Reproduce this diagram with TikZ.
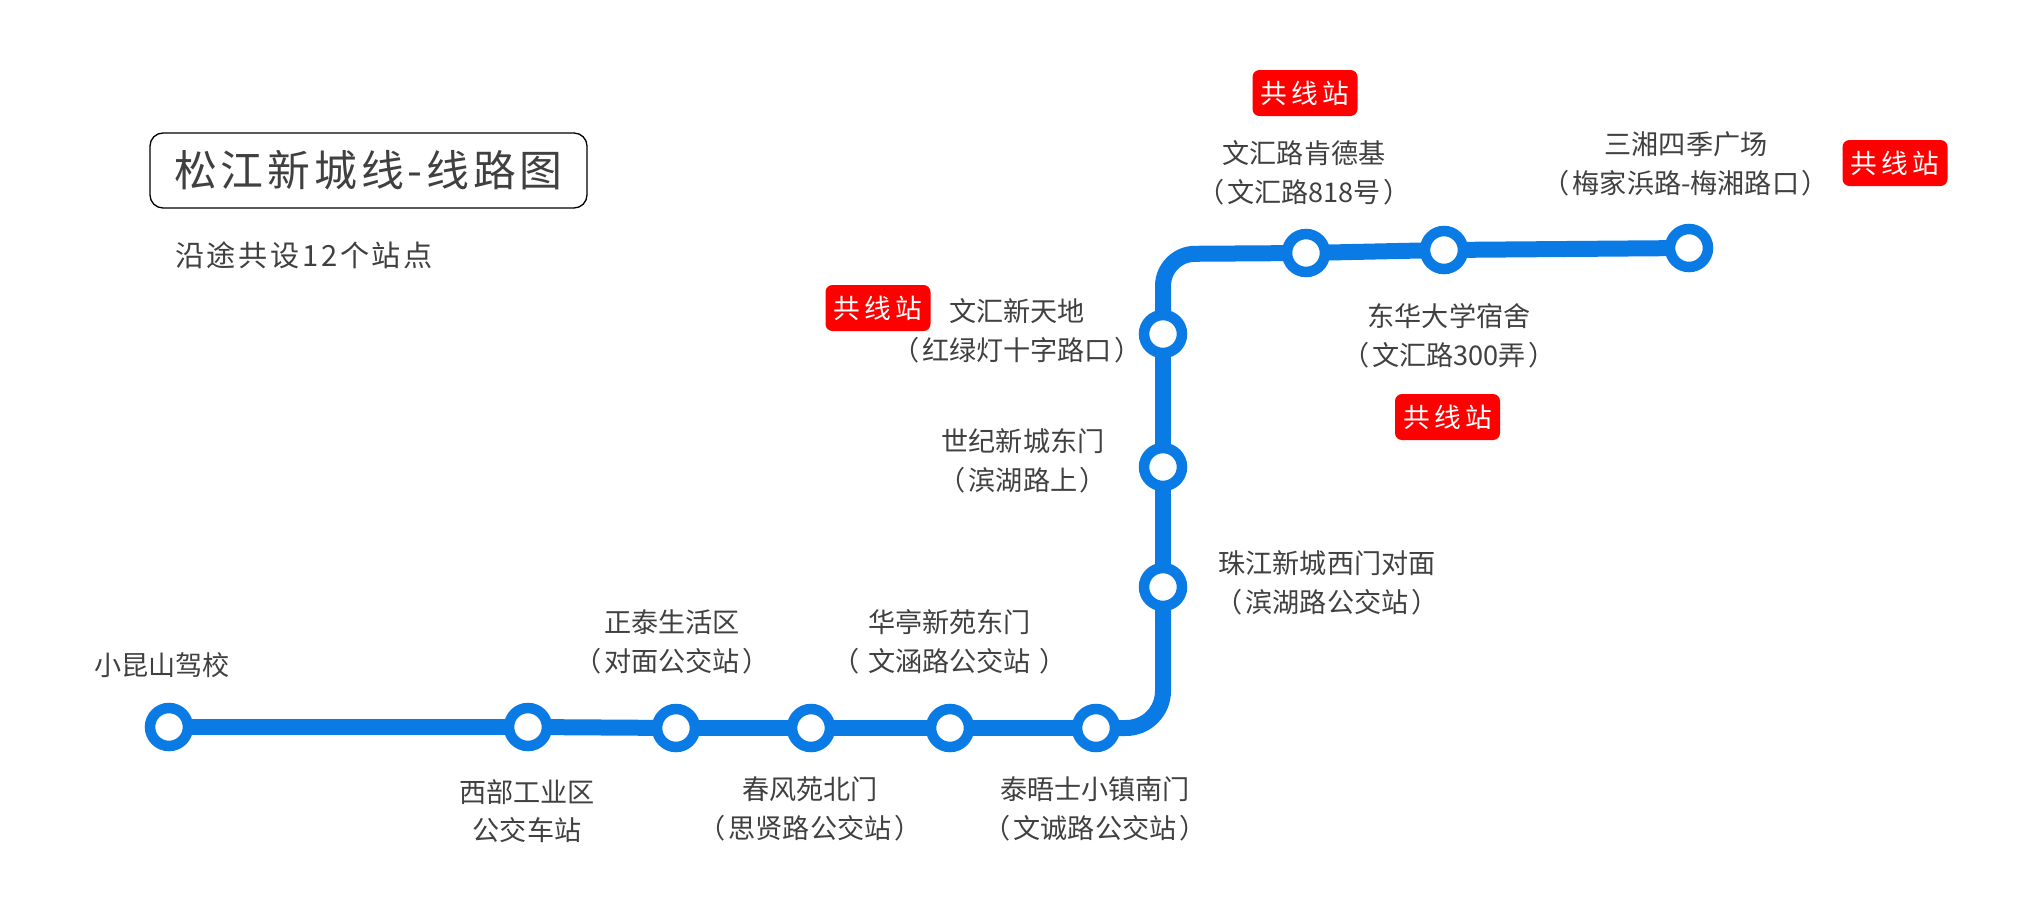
\documentclass[tikz,border=0pt]{standalone}
\usepackage{fontspec}
\setmainfont{Noto Sans CJK SC}
\newfontfamily\spacedfont[LetterSpace=9]{Noto Sans CJK SC}
\newfontfamily\badgefont[LetterSpace=16]{Noto Sans CJK SC}
\usepackage{xcolor}
\usetikzlibrary{positioning}
\definecolor{linecolor}{HTML}{0A7BE4}
\definecolor{textcolor}{HTML}{404040}
\newcommand{\openp}{（\kern0.1em}
\newcommand{\closep}{\kern0.1em）}
\tikzset{
    station/.style={circle, draw=linecolor, fill=white, line width=0.105cm, minimum size=0.38cm, inner sep=0pt, outer sep=0pt},
    lineseg/.style={draw=linecolor, line width=0.16cm},
    stationlabel/.style={align=center, text=textcolor, inner sep=0pt, font=\fontsize{7.72}{11}\selectfont},
    badge/.style={fill=red, text=white, rounded corners=0.07cm, minimum width=1.05cm, minimum height=0.46cm, inner sep=0pt, font=\badgefont\fontsize{7.6}{9}\selectfont},
}

\begin{document}
\begin{tikzpicture}
    \useasboundingbox (0,0) rectangle (20.22,9.08);

    % Title
    \node[draw=black, line width=0.013cm, rounded corners=0.13cm, minimum width=4.37cm, minimum height=0.75cm, inner sep=0pt, text=textcolor, font=\spacedfont\fontsize{12.2}{14}\selectfont] (title) at (3.685,7.375) {松江新城线-线路图};
    \node[text=textcolor, inner sep=0pt, font=\spacedfont\fontsize{8.3}{10}\selectfont] (subtitle) at (3.04,6.53) {沿途共设12个站点};

    % Stations
    \node[station] (xiaokun) at (1.69,1.81) {};
    \node[station] (xibu) at (5.28,1.81) {};
    \node[station] (zhengtai) at (6.76,1.80) {};
    \node[station] (chunfeng) at (8.11,1.80) {};
    \node[station] (huating) at (9.50,1.80) {};
    \node[station] (taiwushi) at (10.96,1.80) {};
    \node[station] (zhujiang) at (11.63,3.21) {};
    \node[station] (shiji) at (11.63,4.41) {};
    \node[station] (xintiandi) at (11.63,5.74) {};
    \node[station] (kfc) at (13.06,6.55) {};
    \node[station] (donghua) at (14.44,6.58) {};
    \node[station] (sanxiang) at (16.89,6.60) {};
    \coordinate (bendlow) at (11.63,1.80);
    \coordinate (bendhigh) at (11.63,6.54);

    % Line
    \draw[lineseg] (xiaokun) -- (xibu);
    \draw[lineseg] (xibu) -- (zhengtai);
    \draw[lineseg] (zhengtai) -- (chunfeng);
    \draw[lineseg] (chunfeng) -- (huating);
    \draw[lineseg] (huating) -- (taiwushi);
    \draw[lineseg, rounded corners=0.37cm] (taiwushi) -- (bendlow) -- (zhujiang);
    \draw[lineseg] (zhujiang) -- (shiji);
    \draw[lineseg] (shiji) -- (xintiandi);
    \draw[lineseg, rounded corners=0.32cm] (xintiandi) -- (bendhigh) -- (kfc);
    \draw[lineseg] (kfc) -- (donghua);
    \draw[lineseg] (donghua) -- (sanxiang);

    % Labels
    \node[stationlabel] (xiaokunlabel) at (1.62,2.43) {小昆山驾校};
    \node[stationlabel] (xibulabel) at (5.27,0.97) {西部工业区\\公交车站};
    \node[stationlabel] (zhengtailabel) at (6.72,2.66) {正泰生活区\\\openp 对面公交站\closep};
    \node[stationlabel] (chunfenglabel) at (8.10,0.99) {春风苑北门\\\openp 思贤路公交站\closep};
    \node[stationlabel] (huatinglabel) at (9.495,2.66) {华亭新苑东门\\\openp{} 文涵路公交站 \closep};
    \node[stationlabel] (taiwushilabel) at (10.95,0.99) {泰晤士小镇南门\\\openp 文诚路公交站\closep};
    \node[stationlabel] (zhujianglabel) at (13.27,3.25) {珠江新城西门对面\\\openp 滨湖路公交站\closep};
    \node[stationlabel] (shijilabel) at (10.23,4.47) {世纪新城东门\\\openp 滨湖路上\closep};
    \node[stationlabel] (xintiandilabel) at (10.17,5.77) {文汇新天地\\\openp 红绿灯十字路口\closep};
    \node[stationlabel] (kfclabel) at (13.04,7.35) {文汇路肯德基\\\openp 文汇路818号\closep};
    \node[stationlabel] (donghualabel) at (14.49,5.72) {东华大学宿舍\\\openp 文汇路300弄\closep};
    \node[stationlabel] (sanxianglabel) at (16.86,7.44) {三湘四季广场\\\openp 梅家浜路-梅湘路口\closep};

    % Shared stations
    \node[badge] (badgekfc) at (13.05,8.15) {共线站};
    \node[badge] (badgesanxiang) at (18.95,7.45) {共线站};
    \node[badge] (badgexintiandi) at (8.78,6.00) {共线站};
    \node[badge] (badgedonghua) at (14.475,4.91) {共线站};
\end{tikzpicture}
\end{document}
